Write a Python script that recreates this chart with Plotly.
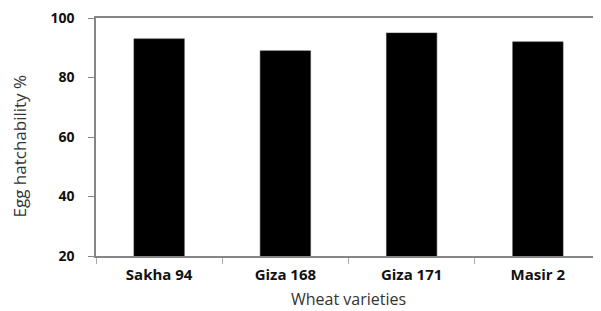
import plotly.graph_objects as go

categories = ["Sakha 94", "Giza 168", "Giza 171", "Masir 2"]
hatchability = [93, 89, 95, 92]
y_ticks = [20, 40, 60, 80, 100]

# page body has an 8px default margin; figure size compensates for it
fig = go.Figure(go.Bar(x=categories, y=hatchability, width=0.4,
                       marker=dict(color="black", line=dict(color="#444", width=0.5))))

fig.update_layout(
    width=593, height=303,
    margin=dict(l=88, r=0, t=10, b=55, autoexpand=False),
    paper_bgcolor="white", plot_bgcolor="white",
    showlegend=False,
    font=dict(family="Open Sans", color="black"),
    annotations=[
        dict(text="Egg hatchability %", xref="paper", yref="paper", x=0, y=0.46,
             xshift=-76, xanchor="center", yanchor="middle", textangle=-90,
             showarrow=False, font=dict(size=17, color="#333")),
        dict(text="Wheat varieties", xref="paper", yref="paper", x=0.5, y=0,
             yshift=-43, xanchor="center", yanchor="middle",
             showarrow=False, font=dict(size=16, color="#333")),
    ],
)
fig.update_xaxes(
    automargin=False,
    showline=True, linecolor="#868686", linewidth=1.5, mirror=True,
    ticks="outside", tickson="boundaries", ticklen=6, tickcolor="#aaaaaa",
    ticklabelstandoff=4, ticklabeloverflow="allow",
    tickfont=dict(size=15, family="Open Sans", weight="bold", color="#111"),
)
fig.update_yaxes(
    automargin=False,
    range=[20, 100], tickvals=y_ticks, showgrid=False, zeroline=False,
    showline=True, linecolor="#868686", linewidth=1.5,
    ticks="outside", ticklen=6, tickcolor="#868686",
    ticklabelstandoff=11, ticklabeloverflow="allow",
    tickfont=dict(size=14, family="Open Sans", weight="bold", color="#111"),
)
fig.write_html("out.html")
